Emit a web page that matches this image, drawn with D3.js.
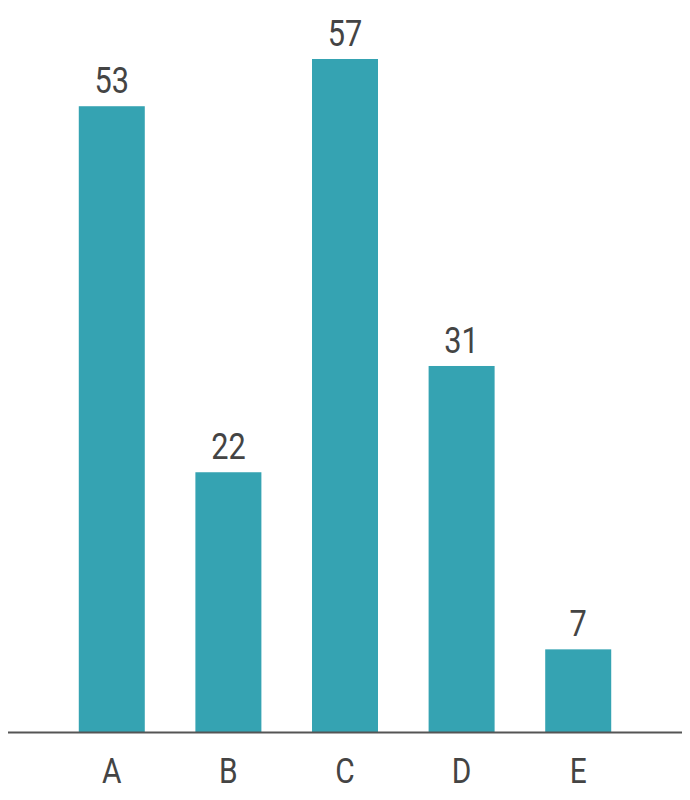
<!DOCTYPE html>
<html><head><meta charset="utf-8">
<script src="https://cdn.jsdelivr.net/npm/d3@7"></script>
<style>body{margin:0;background:#fff}svg{display:block}</style>
</head><body>
<svg id="chart" width="690" height="800"></svg>
<script>
const categories = ["A","B","C","D","E"];
const values = [53,22,57,31,7];

const svg = d3.select("#chart");
const baseY = 732;
const x = d3.scaleBand().domain(categories).range([8,682]).paddingInner(0.434).paddingOuter(0.607);
const y = d3.scaleLinear().domain([0,57]).range([baseY,59]);
const color = "#35a3b2", txt = "#444444";
const sx = 0.83;

svg.selectAll("rect.bar").data(categories).enter().append("rect")
  .attr("class","bar")
  .attr("x", d=>x(d)).attr("width", x.bandwidth())
  .attr("y", (d,i)=>y(values[i])).attr("height",(d,i)=>baseY-y(values[i]))
  .attr("fill", color);

svg.append("line").attr("x1",8).attr("x2",682).attr("y1",baseY+0.5).attr("y2",baseY+0.5)
  .attr("stroke","#555").attr("stroke-width",2);

svg.selectAll("text.val").data(categories).enter().append("text")
  .attr("class","val")
  .attr("transform",(d,i)=>`translate(${x(d)+x.bandwidth()/2},${y(values[i])-13}) scale(${sx},1)`)
  .attr("text-anchor","middle")
  .attr("font-family","Roboto, sans-serif").attr("font-size",37)
  .attr("fill",txt).text((d,i)=>values[i]);

svg.selectAll("text.cat").data(categories).enter().append("text")
  .attr("class","cat")
  .attr("transform",d=>`translate(${x(d)+x.bandwidth()/2},783) scale(${sx},1)`)
  .attr("text-anchor","middle")
  .attr("font-family","Roboto, sans-serif").attr("font-size",36)
  .attr("fill",txt).text(d=>d);
</script>
</body></html>
